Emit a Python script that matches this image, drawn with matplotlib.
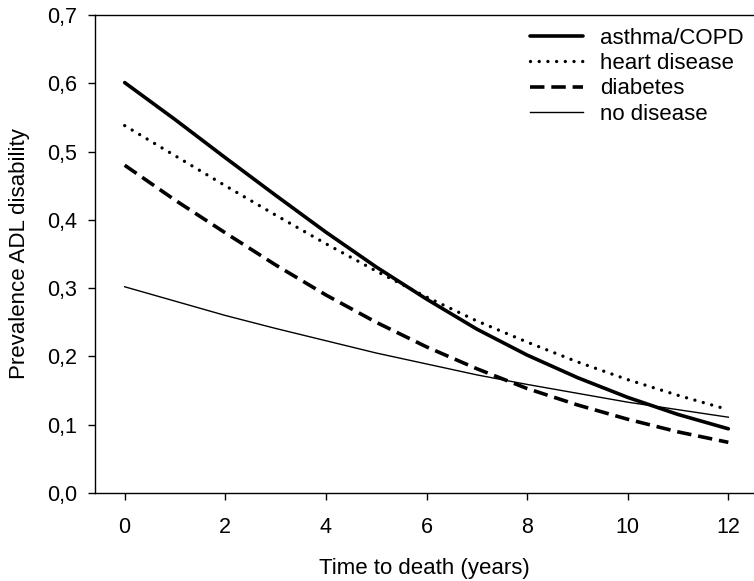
import matplotlib
matplotlib.use("Agg")
import matplotlib.pyplot as plt
from matplotlib.ticker import FuncFormatter

plt.rcParams['font.family'] = ['Liberation Sans', 'DejaVu Sans']

# years before death
years = [0, 1, 2, 3, 4, 5, 6, 7, 8, 9, 10, 11, 12]
asthma = [0.601, 0.547, 0.491, 0.436, 0.382, 0.331, 0.284, 0.240, 0.202, 0.169, 0.140, 0.115, 0.094]
heart = [0.538, 0.494, 0.450, 0.407, 0.365, 0.325, 0.287, 0.252, 0.221, 0.192, 0.166, 0.143, 0.122]
diabetes = [0.480, 0.429, 0.381, 0.334, 0.290, 0.250, 0.214, 0.182, 0.153, 0.129, 0.108, 0.0895, 0.0742]
nodisease = [0.302, 0.281, 0.260, 0.241, 0.223, 0.205, 0.189, 0.173, 0.159, 0.146, 0.133, 0.122, 0.111]

fig = plt.figure(figsize=(7.54, 5.81), dpi=100)
ax = fig.add_axes([95/754, 1 - 493/581, 1 - 95/754, (493 - 15)/581])

ax.plot(years, asthma, color='k', lw=2.6, solid_capstyle='round', label='asthma/COPD')
ax.plot(years, heart, color='k', lw=2.4, linestyle=(0, (0.01, 2.6)),
        dash_capstyle='round', label='heart disease')
ax.plot(years, diabetes, color='k', lw=2.6, linestyle=(0, (4, 1.9)), label='diabetes')
ax.plot(years, nodisease, color='k', lw=1.0, label='no disease')

ax.set_xlim(-0.59, 12.51)
ax.set_ylim(0, 0.7)
ax.set_xticks([0, 2, 4, 6, 8, 10, 12])
ax.set_yticks([0, 0.1, 0.2, 0.3, 0.4, 0.5, 0.6, 0.7])
ax.yaxis.set_major_formatter(FuncFormatter(lambda v, p: ('%.1f' % v).replace('.', ',')))
ax.tick_params(labelsize=15.5, length=5, width=1.0, direction='out')
ax.tick_params(axis='y', pad=8)
ax.tick_params(axis='x', pad=12)
ax.spines['right'].set_visible(False)
for s in ['left', 'bottom', 'top']:
    ax.spines[s].set_linewidth(1.0)

ax.set_xlabel('Time to death (years)', fontsize=16, labelpad=15)
ax.set_ylabel('Prevalence ADL disability', fontsize=16, labelpad=12)

ax.legend(loc='upper left', bbox_to_anchor=(530/754, 1 - 28/581), bbox_transform=fig.transFigure,
          frameon=False, fontsize=16, handlelength=2.4, handletextpad=0.75,
          labelspacing=0.19, borderpad=0, borderaxespad=0)

fig.savefig('out.png', dpi=100)
